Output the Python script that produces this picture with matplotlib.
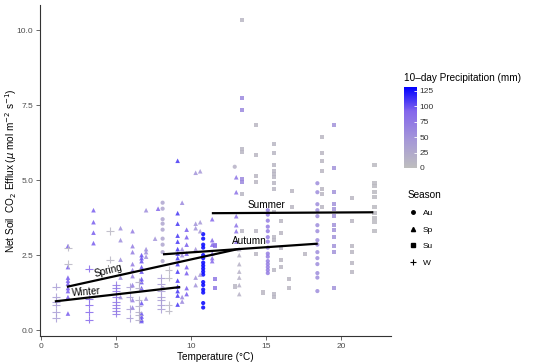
import numpy as np
import matplotlib
matplotlib.use("Agg")
import matplotlib.pyplot as plt
from matplotlib.colors import LinearSegmentedColormap, Normalize
from matplotlib.lines import Line2D

plt.rcParams['font.family'] = ['Liberation Sans', 'DejaVu Sans']

# Data: each column = (temperature, 10-day precipitation, [flux values])
winter_cols = [
    (1.0, 40, [1.45, 1.1, 0.95, 0.85, 0.6, 0.4]),
    (1.8, 10, [2.75, 2.2]),
    (3.2, 90, [2.05, 1.05, 0.85, 0.6, 0.35]),
    (4.6, 10, [3.3, 2.35]),
    (5.0, 75, [1.5, 1.4, 1.3, 1.2, 1.1, 0.95, 0.85, 0.75, 0.65, 0.55]),
    (5.9, 40, [1.45, 1.1, 0.7, 0.4]),
    (6.5, 20, [1.6, 1.4, 1.0, 0.8, 0.6, 0.5, 0.35]),
    (8.0, 40, [1.75, 1.55, 1.3, 1.1, 1.0, 0.85, 0.7]),
    (8.5, 10, [2.0, 1.75, 0.85, 0.65]),
]
spring_cols = [
    (1.8, 95, [2.8, 2.1, 1.75, 1.65, 1.55, 1.4, 1.3, 1.1, 0.55]),
    (3.5, 95, [4.0, 3.6, 3.25, 2.9]),
    (5.3, 55, [3.4, 3.0, 2.35, 1.75, 1.1]),
    (6.1, 70, [3.3, 2.8, 2.6, 2.2, 2.0, 1.8, 1.5, 1.0, 0.75]),
    (6.7, 100, [2.5, 2.4, 2.3, 2.1, 1.95, 1.7, 1.6, 1.4, 0.9, 0.55, 0.45, 0.35, 0.3]),
    (7.0, 55, [4.0, 2.7, 2.6, 2.45, 1.05]),
    (7.6, 50, [3.05]),
    (7.8, 90, [4.05]),
    (9.1, 110, [5.65, 3.9, 3.55, 3.15, 2.95, 2.7, 2.55, 2.4, 2.2, 1.95, 1.65, 1.45, 1.3, 1.15, 0.85]),
    (9.4, 60, [4.25, 2.7, 2.5, 1.1, 0.95]),
    (9.7, 95, [3.35, 3.1, 2.85, 2.55, 2.1, 1.9, 1.4, 1.2]),
    (10.3, 50, [5.25, 3.55, 3.4, 2.7, 1.75, 1.5]),
    (10.6, 45, [5.3, 3.6, 3.3, 1.85]),
    (11.4, 90, [3.7, 3.0, 2.85, 2.55, 2.4, 2.3]),
    (13.0, 80, [5.1, 4.6, 3.8, 3.5, 3.3, 2.95]),
    (13.2, 15, [2.7, 2.5, 2.2, 1.95, 1.75, 1.5, 1.2]),
]
autumn_cols = [
    (8.1, 30, [4.25, 4.05, 3.7, 3.55, 3.35, 3.05, 2.85, 2.6, 2.3, 1.4]),
    (10.8, 130, [3.2, 3.05, 2.85, 2.75, 2.5, 2.4, 2.25, 2.15, 2.05, 1.95, 1.85, 1.6, 1.5, 1.35, 1.25, 0.9, 0.75]),
    (12.9, 15, [5.45]),
    (15.1, 70, [4.0, 3.85, 3.65, 3.45, 3.3, 3.1, 2.95, 2.75, 2.55, 2.45, 2.3, 2.2, 2.1, 2.0, 1.9]),
    (18.4, 55, [4.9, 4.6, 4.2, 4.0, 3.8, 3.5, 3.3, 3.0, 2.85, 2.6, 2.4, 2.2, 1.9, 1.75, 1.3]),
]
summer_cols = [
    (11.6, 75, [2.85, 2.8, 1.7, 1.4]),
    (13.4, 60, [7.75, 7.35, 5.05, 4.95]),
    (13.4, 10, [10.35, 6.05, 5.95, 4.55, 3.3]),
    (12.9, 10, [1.45]),
    (14.3, 8, [6.85, 5.85, 5.15, 4.95, 3.3, 2.55]),
    (14.8, 8, [1.25]),
    (15.5, 10, [6.2, 5.9, 5.5, 5.3, 5.2, 5.1, 4.9, 4.7, 3.95, 3.1, 3.0, 2.0, 1.2, 1.1]),
    (16.0, 8, [3.65, 3.25, 2.75, 2.35, 2.1]),
    (16.5, 8, [1.7, 1.4]),
    (16.7, 8, [4.65, 4.1]),
    (17.6, 8, [2.55]),
    (18.7, 8, [6.45, 5.9, 5.65, 5.3, 4.7, 4.55, 4.1]),
    (19.5, 50, [6.85, 5.4, 4.6, 4.2, 4.05, 3.8, 3.5, 3.35, 3.1, 2.8, 2.6, 1.4]),
    (20.7, 8, [4.4, 3.65, 2.8, 2.6, 2.25, 1.95]),
    (22.2, 5, [5.5, 4.9, 4.8, 4.6, 4.45, 4.1, 3.9, 3.75, 3.6, 3.3]),
]

# fitted line end points (temperature, flux)
winter_line = ([1.0, 9.2], [0.96, 1.43])
spring_line = ([1.8, 13.1], [1.45, 2.7])
autumn_line = ([8.2, 18.35], [2.53, 2.88])
summer_line = ([11.45, 22.05], [3.9, 3.93])

season_labels = ["Au", "Sp", "Su", "W"]
precip_ticks = [0, 25, 50, 75, 100, 125]

cmap = LinearSegmentedColormap.from_list(
    "pr", [(0, "#BEBEBE"), (0.35, "#A597D8"), (0.7, "#8466EC"), (1.0, "#0000FF")])
norm = Normalize(0, 131)

fig = plt.figure(figsize=(5.5, 3.64), dpi=100)
ax = fig.add_axes([40/550, 28/364, 351/550, 331/364])

def expand(cols):
    t, f, p = [], [], []
    for temp, pr, vals in cols:
        for v in vals:
            t.append(temp); f.append(v); p.append(pr)
    return np.array(t), np.array(f), np.array(p)

specs = [(summer_cols, 's', 9), (autumn_cols, 'o', 9), (spring_cols, '^', 11), (winter_cols, '+', 28)]
for cols, mk, sz in specs:
    t, f, p = expand(cols)
    if mk == '+':
        ax.scatter(t, f, c=p, cmap=cmap, norm=norm, marker=mk, s=sz, linewidths=0.8, alpha=0.85)
    else:
        ax.scatter(t, f, c=p, cmap=cmap, norm=norm, marker=mk, s=sz, linewidths=0, alpha=0.85)

for xs, ys in [winter_line, spring_line, autumn_line, summer_line]:
    ax.plot(xs, ys, color='black', lw=1.6)

fs = 7.2
ax.text(3.0, 1.28, "Winter", fontsize=fs, rotation=4, ha='center', va='center')
ax.text(4.5, 1.98, "Spring", fontsize=fs, rotation=14, ha='center', va='center')
ax.text(13.9, 2.98, "Autumn", fontsize=fs, ha='center', va='center')
ax.text(15.0, 4.18, "Summer", fontsize=fs, ha='center', va='center')

ax.set_xlim(-0.06, 23.3)
ax.set_ylim(-0.2, 10.85)
ax.set_xticks([0, 5, 10, 15, 20])
ax.set_yticks([0, 2.5, 5.0, 7.5, 10.0])
ax.set_yticklabels(["0.0", "2.5", "5.0", "7.5", "10.0"])
for s in ['top', 'right']:
    ax.spines[s].set_visible(False)
for s in ['left', 'bottom']:
    ax.spines[s].set_color('#333333')
    ax.spines[s].set_linewidth(0.8)
ax.tick_params(colors='#4D4D4D', labelsize=6, length=3, width=0.6, pad=2)
ax.set_xlabel("Temperature (°C)", fontsize=fs)
ax.set_ylabel(r"Net Soil  CO$_2$ Efflux ($\mu$ mol m$^{-2}$ s$^{-1}$)", fontsize=fs)
ax.xaxis.set_label_coords(0.5, -15.5/331)
ax.yaxis.set_label_coords(-21/351, 0.5)

# colorbar
cax = fig.add_axes([404/550, (364-168)/364, 13/550, 81/364])
cb = fig.colorbar(plt.cm.ScalarMappable(norm=norm, cmap=cmap), cax=cax)
cb.set_ticks(precip_ticks)
cb.outline.set_visible(False)
cax.tick_params(labelsize=6, length=2.5, colors='white', labelcolor='#333333', width=0.6, direction='in', pad=2)
fig.text(404/550, 1 - 78/364, "10\u2013day Precipitation (mm)", fontsize=fs, va='center', ha='left')

# season legend
handles = [Line2D([], [], marker='o', ls='', color='black', markersize=2.5),
           Line2D([], [], marker='^', ls='', color='black', markersize=3),
           Line2D([], [], marker='s', ls='', color='black', markersize=2.5),
           Line2D([], [], marker='+', ls='', color='black', markersize=5, markeredgewidth=0.8)]
leg = fig.legend(handles, season_labels, title="Season", loc='upper left',
                 bbox_to_anchor=(400/550, 1 - 183/364), frameon=False, fontsize=6,
                 title_fontsize=fs, handlelength=1.2, labelspacing=1.05, handletextpad=0.6)
leg._legend_box.align = "left"

fig.savefig("out.png", dpi=100)
